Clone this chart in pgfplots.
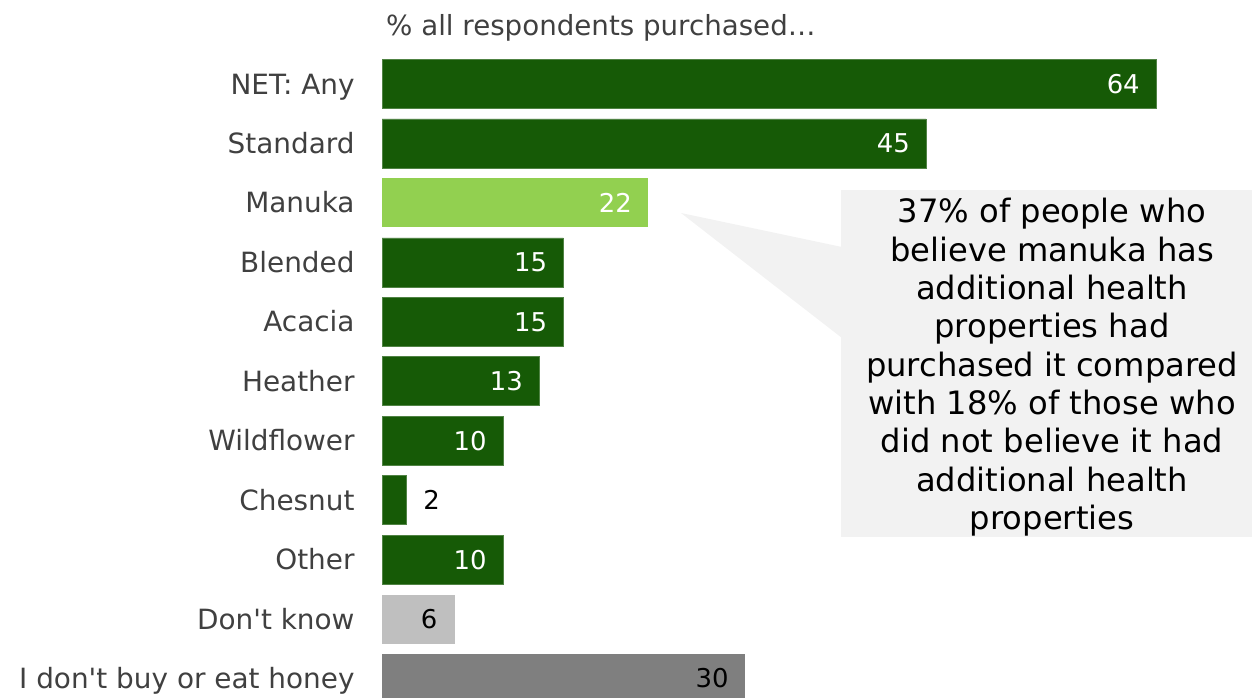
\documentclass[border=0pt]{standalone}
\usepackage{pgfplots}
\pgfplotsset{compat=1.18}
\usepackage{fontspec}
\setmainfont{DejaVu Sans}[Ligatures=TeXOff]
\definecolor{dgreen}{HTML}{165A06}
\definecolor{lgreen}{HTML}{92D050}
\definecolor{lgray}{HTML}{BFBFBF}
\definecolor{dgray}{HTML}{7F7F7F}
\definecolor{labgray}{HTML}{404040}
\definecolor{boxgray}{HTML}{F2F2F2}
\newcommand\titfont{\fontsize{27.8}{33}\selectfont}
\newcommand\labfont{\fontsize{28}{33}\selectfont}
\newcommand\valfont{\fontsize{26}{31}\selectfont}
\newcommand\boxfont{\fontsize{32.3}{38.3}\selectfont}
\begin{document}
\begin{tikzpicture}[x=1bp,y=1bp]
\fill[boxgray] (841,-190) rectangle (1252,-537);
\fill[boxgray] (681,-213) -- (842,-247) -- (842,-338) -- cycle;
\node[anchor=base west, inner sep=0pt, text=labgray, font=\titfont] at (386,-36) {\% all respondents purchased…};
\foreach \t [count=\i from 0] in {37\% of people who, believe manuka has, additional health, properties had, purchased it compared, with 18\% of those who, did not believe it had, additional health, properties}{
  \node[anchor=base, inner sep=0pt, font=\boxfont, text=black] at (1052,-223-\i*38.3) {\t};
}
\begin{axis}[
  at={(382bp,-54.3bp)}, anchor=north west,
  scale only axis, width=774bp, height=653.9bp,
  xmin=0, xmax=64, ymin=-0.5, ymax=10.5, y dir=reverse,
  enlargelimits=false, clip=false,
  axis line style={draw=none}, tick style={draw=none},
  xtick=\empty, ytick={0,...,10},
  yticklabels={{NET: Any},{Standard},{Manuka},{Blended},{Acacia},{Heather},{Wildflower},{Chesnut},{Other},{Don't know},{I don't buy or eat honey}},
  yticklabel style={anchor=base east, inner sep=0pt, xshift=-23bp, yshift=-10bp, font=\labfont, text=labgray},
  /pgf/number format/assume math mode=true,
  xbar,
]
\addplot[xbar, bar shift=0pt, bar width=0.824, fill=dgreen, draw=dgreen!75!white, line width=0.6bp,
  nodes near coords, every node near coord/.append style={anchor=base east, inner sep=0pt, xshift=-16bp, yshift=-9.5bp, text=white, font=\valfont}]
  coordinates {(64,0) (45,1) (15,3) (15,4) (13,5) (10,6) (10,8)};
\addplot[xbar, bar shift=0pt, bar width=0.824, fill=dgreen, draw=dgreen!75!white, line width=0.6bp,
  nodes near coords, every node near coord/.append style={anchor=base west, inner sep=0pt, xshift=17bp, yshift=-9.5bp, text=black, font=\valfont}]
  coordinates {(2,7)};
\addplot[xbar, bar shift=0pt, bar width=0.824, fill=lgreen, draw=none,
  nodes near coords, every node near coord/.append style={anchor=base east, inner sep=0pt, xshift=-16bp, yshift=-9.5bp, text=white, font=\valfont}]
  coordinates {(22,2)};
\addplot[xbar, bar shift=0pt, bar width=0.824, fill=lgray, draw=none,
  nodes near coords, every node near coord/.append style={anchor=base east, inner sep=0pt, xshift=-17bp, yshift=-9.5bp, text=black, font=\valfont}]
  coordinates {(6,9)};
\addplot[xbar, bar shift=0pt, bar width=0.824, fill=dgray, draw=none,
  nodes near coords, every node near coord/.append style={anchor=base east, inner sep=0pt, xshift=-16bp, yshift=-9.5bp, text=black, font=\valfont}]
  coordinates {(30,10)};
\end{axis}
\pgfresetboundingbox
\path[use as bounding box] (0,0) rectangle (1252,-698);
\end{tikzpicture}
\end{document}
